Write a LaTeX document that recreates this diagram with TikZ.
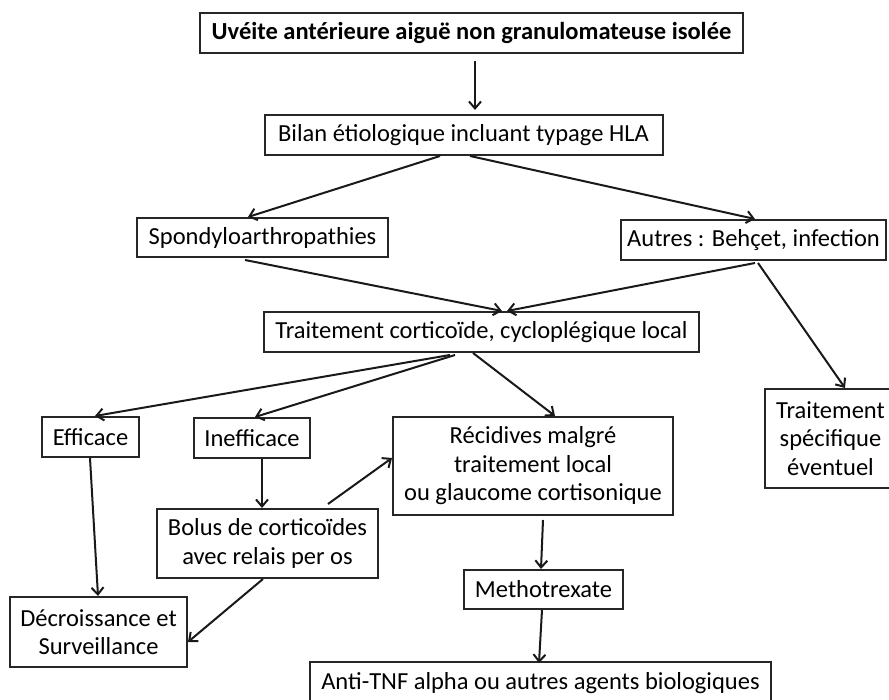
\documentclass[tikz,border=0pt]{standalone}
\usepackage{fontspec}
\setmainfont{Carlito}
\usetikzlibrary{arrows.meta,calc}
\begin{document}
\begin{tikzpicture}[x=1pt,y=1pt,
  box/.style={draw=black!85, line width=2pt, inner sep=0pt, align=center, text=black,
    font=\fontsize{24.5}{28.5}\selectfont},
  arr/.style={draw=black!90, line width=2pt, -{Straight Barb[length=7pt,width=12pt,line width=2pt]}}]
\useasboundingbox (0,0) rectangle (889,700);
\node[box, minimum width=543pt, minimum height=40pt, font=\fontsize{24.5}{28.5}\selectfont\bfseries] (top) at (471.5,667) {Uvéite antérieure aiguë non granulomateuse isolée};
\node[box, minimum width=398pt, minimum height=40pt] (bilan) at (463.5,565) {Bilan étiologique incluant typage HLA};
\node[box, minimum width=251pt, minimum height=39pt] (spondy) at (262.5,462.5) {Spondyloarthropathies};
\node[box, minimum width=265pt, minimum height=40pt] (autres) at (753.5,460) {Autres : Behçet, infection};
\node[box, minimum width=435pt, minimum height=40pt] (trait) at (481.5,368) {Traitement corticoïde, cycloplégique local};
\node[box, minimum width=97pt, minimum height=40pt] (efficace) at (90.5,263) {Efficace};
\node[box, minimum width=116pt, minimum height=40pt] (inefficace) at (252,262) {Inefficace};
\node[box, minimum width=280pt, minimum height=98pt] (recid) at (533,234) {Récidives malgré\\traitement local\\ou glaucome cortisonique};
\node[box, minimum width=131pt, minimum height=99pt] (spec) at (830.5,261.5) {Traitement\\spécifique\\éventuel};
\node[box, minimum width=221pt, minimum height=69pt] (bolus) at (267.5,156.5) {Bolus de corticoïdes\\avec relais per os};
\node[box, minimum width=177pt, minimum height=70pt] (decroi) at (98.5,68) {Décroissance et\\Surveillance};
\node[box, minimum width=159pt, minimum height=39pt] (metho) at (543.5,110.5) {Methotrexate};
\node[box, minimum width=461pt, minimum height=43pt] (anti) at (540.5,16.5) {Anti-TNF alpha ou autres agents biologiques};

\draw[arr] ([xshift=3.5pt,yshift=-7pt]top.south) -- ([xshift=11.5pt,yshift=4pt]bilan.north);
\draw[arr] ([xshift=-23.5pt]bilan.south) -- ([xshift=-14.5pt]spondy.north);
\draw[arr] ([xshift=6.5pt]bilan.south) -- ([xshift=1.5pt]autres.north);
\draw[arr] ([xshift=-17.5pt,yshift=-2pt]spondy.south) -- ([xshift=20.5pt]trait.north);
\draw[arr] ([xshift=1.5pt,yshift=-2pt]autres.south) -- ([xshift=25.5pt]trait.north);
\draw[arr] ([xshift=4.5pt,yshift=-2pt]autres.south) -- ([xshift=14.5pt]spec.north);
\draw[arr] ([xshift=-31.5pt,yshift=-2pt]trait.south) -- ([xshift=4.5pt]efficace.north);
\draw[arr] ([xshift=-26.5pt,yshift=-2pt]trait.south) -- ([xshift=3pt]inefficace.north);
\draw[arr] ([xshift=-8.5pt]trait.south) -- ([xshift=22pt]recid.north);
\draw[arr] ([xshift=10pt]inefficace.south) -- ([xshift=-5.5pt]bolus.north);
\draw[arr] ([xshift=60.5pt,yshift=4pt]bolus.north) -- ([yshift=8pt]recid.west);
\draw[arr] ([xshift=-0.5pt]efficace.south) -- ([xshift=-0.5pt]decroi.north);
\draw[arr] ([xshift=-4.5pt]bolus.south) -- ([yshift=-10pt]decroi.east);
\draw[arr] ([xshift=10pt,yshift=-4pt]recid.south) -- ([xshift=-2.5pt]metho.north);
\draw[arr] ([xshift=-1.5pt]metho.south) -- ([xshift=-1.5pt,yshift=-2pt]anti.north);
\end{tikzpicture}
\end{document}
